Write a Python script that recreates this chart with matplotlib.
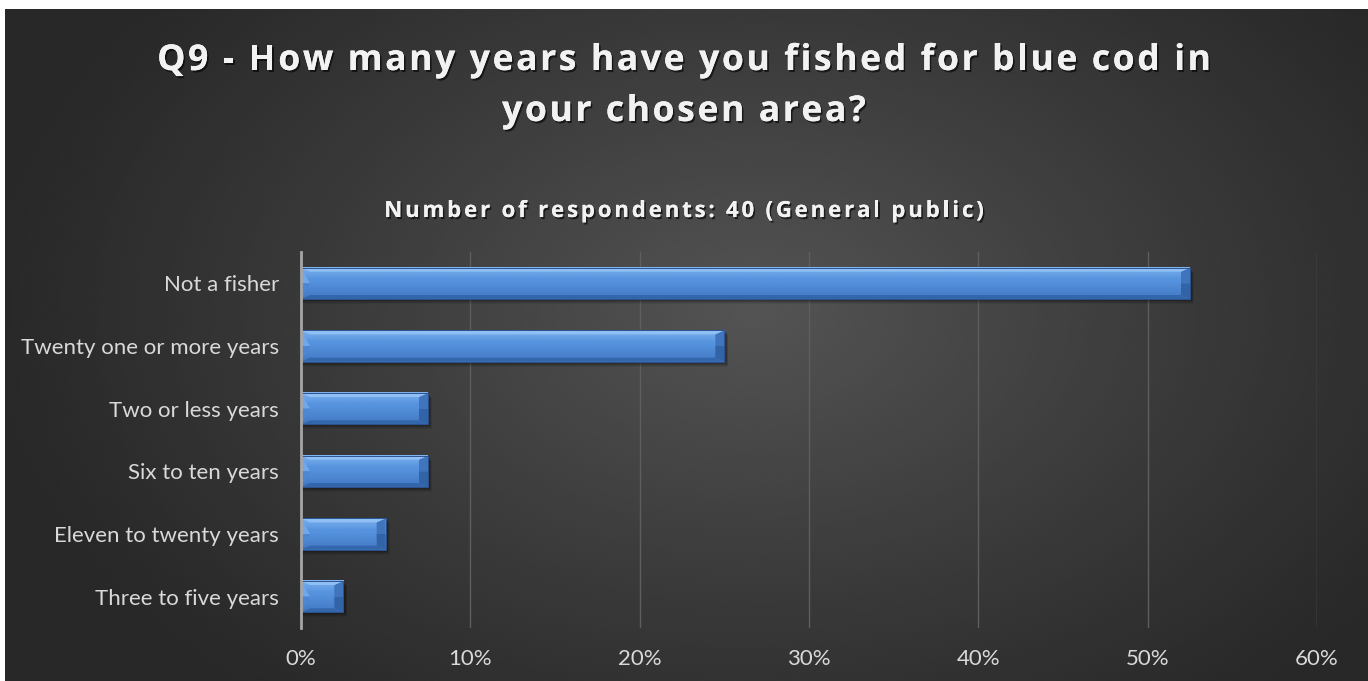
import matplotlib
matplotlib.use("Agg")
import matplotlib.pyplot as plt
import matplotlib.patheffects as pe
from matplotlib.patches import Polygon, Rectangle
from matplotlib.colors import to_rgb
import numpy as np

categories = ["Not a fisher", "Twenty one or more years", "Two or less years",
              "Six to ten years", "Eleven to twenty years", "Three to five years"]
shares = [52.5, 25.0, 7.5, 7.5, 5.0, 2.5]
xticks = [0, 10, 20, 30, 40, 50, 60]
xtick_labels = [f"{t}%" for t in xticks]

title_lines = ["Q9 - How many years have you fished for blue cod in", "your chosen area?"]
subtitle = "Number of respondents: 40 (General public)"

W, H, DPI = 1368, 681, 100
fig = plt.figure(figsize=(W / DPI, H / DPI), dpi=DPI)
fig.patch.set_facecolor("white")

# dark panel with radial gradient
bg = fig.add_axes([5 / W, 0, 1 - 5 / W, 1 - 9 / H], zorder=0)
yy, xx = np.mgrid[-1:1:340j, -1:1:680j]
r = np.sqrt((xx - 0.1) ** 2 + ((yy + 0.1) * 0.75) ** 2)
shade = 40 + 44 * np.clip(1 - r / 1.15, 0, 1) ** 1.1
bg.imshow(shade, cmap="gray", vmin=0, vmax=255, extent=[0, 1, 0, 1], aspect="auto",
          interpolation="bicubic")
bg.axis("off")

# plot area
ax = fig.add_axes([301 / W, 53 / H, (1317 - 301) / W, (628 - 252) / H], zorder=2)
ax.set_facecolor("none")
ypos = np.arange(len(categories))
bar_h = 0.5
bars = ax.barh(ypos, shares, height=bar_h, color="#4a84d2", zorder=3)

ax_w_px = (1317 - 301)
ax_h_px = (628 - 252)
xmax = 60
px_x = xmax / ax_w_px
px_y = len(categories) / ax_h_px

bx = 9 * px_x
by = 4 * px_y

def blend(c1, c2, n):
    a, b = np.array(to_rgb(c1)), np.array(to_rgb(c2))
    t = np.linspace(0, 1, n)[:, None]
    return a * (1 - t) + b * t

grad = np.concatenate([blend("#7db1ef", "#5693de", 8), blend("#5693de", "#4379c4", 12)])
grad = grad[:, None, :]

for p in bars:
    x0, yc, w, h = p.get_x(), p.get_y(), p.get_width(), p.get_height()
    x1 = x0 + w
    y0, y1 = yc, yc + h  # y0 visually top (inverted axis)
    ym = (y0 + y1) / 2
    p.set_visible(False)
    # soft shadow
    for k, a in [(5, 0.07), (4, 0.09), (3, 0.11), (2, 0.13)]:
        ax.add_patch(Rectangle((x0 + 1 * px_x, y0 + k * px_y), w + k * 0.6 * px_x, h,
                               color="black", alpha=a, lw=0, zorder=2.5))
    # main face gradient
    ax.imshow(grad, extent=(x0, x1, y1, y0), aspect="auto",
              interpolation="bilinear", zorder=4)
    # bevel: top / bottom bands
    ax.add_patch(Polygon([(x0, y0), (x1, y0), (x1 - bx, y0 + by), (x0 + bx, y0 + by)],
                         closed=True, color="#8fbff3", lw=0, zorder=4.2))
    ax.add_patch(Polygon([(x0, y1), (x1, y1), (x1 - bx, y1 - by), (x0 + bx, y1 - by)],
                         closed=True, color="#3466ab", lw=0, zorder=4.2))
    # left chevron
    ax.add_patch(Polygon([(x0, y0), (x0 + bx, ym), (x0, ym)],
                         closed=True, color="#72a8ea", lw=0, zorder=4.1))
    ax.add_patch(Polygon([(x0, ym), (x0 + bx, ym), (x0, y1)],
                         closed=True, color="#4d86d2", lw=0, zorder=4.1))
    # right face
    ax.add_patch(Polygon([(x1, y0), (x1 - bx, y0 + by), (x1 - bx, ym), (x1, ym)],
                         closed=True, color="#4075bd", lw=0, zorder=4.1))
    ax.add_patch(Polygon([(x1, ym), (x1 - bx, ym), (x1 - bx, y1 - by), (x1, y1)],
                         closed=True, color="#3263a6", lw=0, zorder=4.1))
    ax.add_patch(Rectangle((x0, y0), w, h, fill=False, ec="#2c5290", lw=0.7, zorder=4.3))

ax.set_xlim(0, xmax)
ax.set_ylim(len(categories) - 0.5, -0.5)
ax.set_xticks(xticks)
ax.set_xticklabels(xtick_labels)
ax.set_yticks(ypos)
ax.set_yticklabels(categories)
ax.tick_params(axis="both", length=0, colors="#d9d9d9", labelsize=16)
ax.tick_params(axis="x", pad=15)
ax.tick_params(axis="y", pad=16)
for lab in ax.get_xticklabels() + ax.get_yticklabels():
    lab.set_fontfamily("Lato")
ax.grid(axis="x", color="#5e5e5e", lw=1, zorder=1)
for s in ["top", "right", "bottom"]:
    ax.spines[s].set_visible(False)
ax.spines["left"].set_color("#a6a6a6")
ax.spines["left"].set_linewidth(2)
ax.spines["left"].set_zorder(5)

# letter-spaced titles
renderer = fig.canvas.get_renderer()

def text_width(s, **kw):
    t = fig.text(0, 0, s, **kw)
    w = t.get_window_extent(renderer).width
    t.remove()
    return w

def spaced_text(s, xc, y, spacing, **kw):
    base = text_width("ii", **kw)
    adv = [text_width("i" + ch + "i", **kw) - base for ch in s]
    total = sum(adv) + spacing * (len(s) - 1)
    x = xc - total / 2
    for ch, a in zip(s, adv):
        fig.text(x / W, 1 - y / H, ch, ha="left", va="baseline", zorder=6, **kw)
        x += a + spacing

shadow = [pe.withSimplePatchShadow(offset=(1.2, -1.5), shadow_rgbFace="black", alpha=0.6),
          pe.Normal()]
tkw = dict(fontsize=25.6, fontweight="bold", family="Open Sans", color="#f2f2f2",
           path_effects=shadow)
spaced_text(title_lines[0], 684, 70, 2.6, **tkw)
spaced_text(title_lines[1], 684, 121, 2.6, **tkw)
skw = dict(fontsize=16, fontweight="bold", family="Open Sans", color="#f2f2f2",
           path_effects=shadow)
spaced_text(subtitle, 684, 217, 2.8, **skw)

fig.savefig("out.png", dpi=DPI, facecolor=fig.get_facecolor())
